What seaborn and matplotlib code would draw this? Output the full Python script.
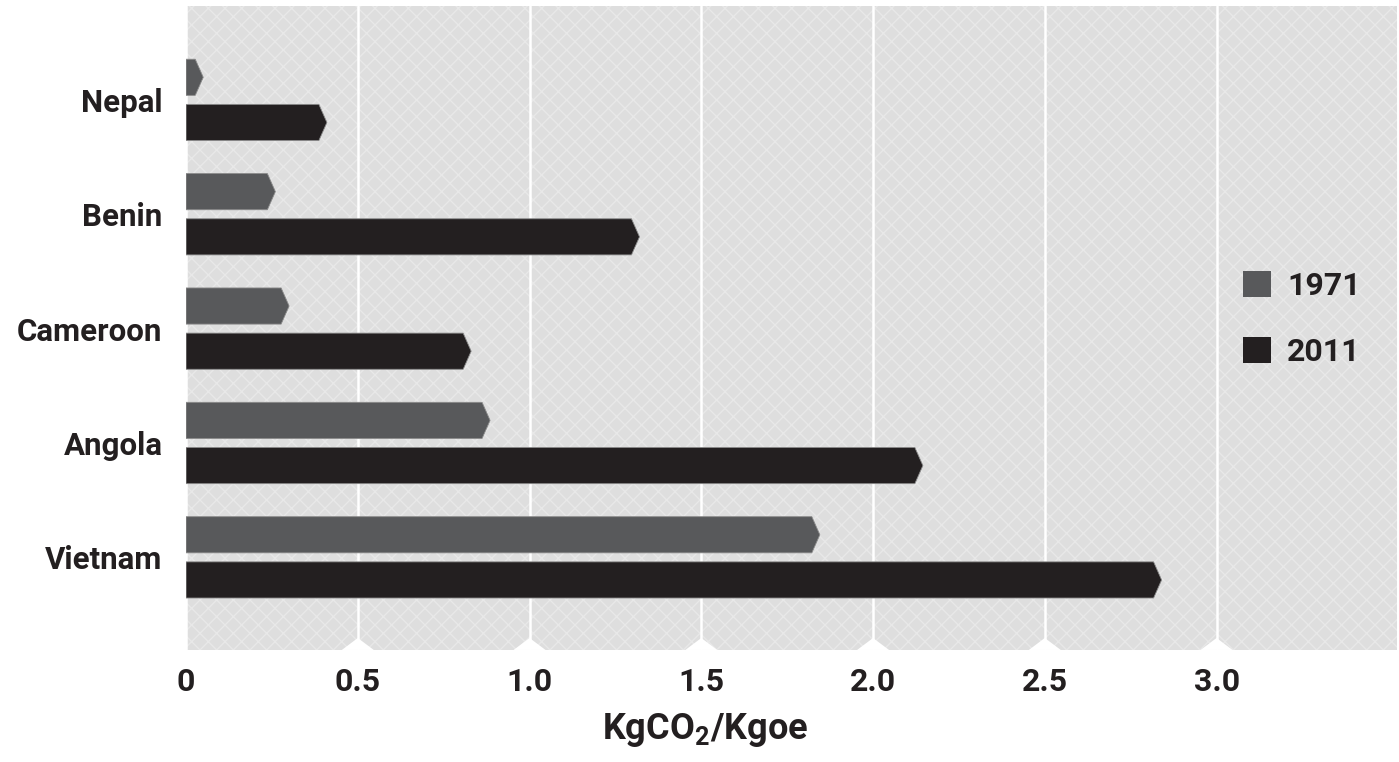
import numpy as np
import pandas as pd
import seaborn as sns
import matplotlib.pyplot as plt
from matplotlib.patches import Polygon, Rectangle
from matplotlib.transforms import blended_transform_factory

# ==========================================
# Datos (KgCO2 / Kgoe)
# ==========================================
paises = ["Nepal", "Benin", "Cameroon", "Angola", "Vietnam"]
anios = ["1971", "2011"]
valores_1971 = [0.05, 0.26, 0.30, 0.885, 1.845]
valores_2011 = [0.41, 1.32, 0.83, 2.145, 2.84]
ticks_x = [0, 0.5, 1.0, 1.5, 2.0, 2.5, 3.0]
etiquetas_x = ["0", "0.5", "1.0", "1.5", "2.0", "2.5", "3.0"]

colores = {"1971": "#58595b", "2011": "#231f20"}
TXT = "#231f20"

df = pd.DataFrame({
    "pais": paises * 2,
    "anio": [anios[0]] * len(paises) + [anios[1]] * len(paises),
    "valor": valores_1971 + valores_2011,
})

sns.set_theme(style="white")
plt.rcParams["font.family"] = ["Roboto", "DejaVu Sans"]
plt.rcParams["font.weight"] = "bold"
plt.rcParams["mathtext.fontset"] = "custom"
plt.rcParams["mathtext.rm"] = "Roboto:bold"
plt.rcParams["mathtext.default"] = "rm"
plt.rcParams["hatch.color"] = "#e8e8e8"
plt.rcParams["hatch.linewidth"] = 1.0

fig = plt.figure(figsize=(13.99, 7.62), dpi=100)
ax = fig.add_axes([0.133, 0.147, 0.8655, 0.845])

# fondo gris con trama cruzada
ax.set_facecolor("#dedede")
fondo = Rectangle((0, 0), 1, 1, transform=ax.transAxes, facecolor="#dedede",
                  edgecolor="#e8e8e8", hatch="xx", linewidth=0, zorder=0)
ax.add_patch(fondo)

sns.barplot(data=df, y="pais", x="valor", hue="anio", orient="h",
            palette=colores, width=0.79, gap=0.2, saturation=1,
            edgecolor="none", ax=ax, zorder=3)

ax.set_xlim(0, 3.525)
ax.set_ylim(4.81, -0.82)

# punta de flecha en cada barra
punta = 8 / 343.5
for cont in ax.containers:
    for rect in list(cont.patches):
        x0, y0 = rect.get_x(), rect.get_y()
        w, h = rect.get_width(), rect.get_height()
        x1 = x0 + w
        xs = max(x1 - punta, x0)
        pts = [(x0, y0), (xs, y0), (x1, y0 + h / 2), (xs, y0 + h), (x0, y0 + h)]
        poly = Polygon(pts, closed=True, facecolor=rect.get_facecolor(),
                       edgecolor="#8a8a8a", linewidth=0.6, zorder=3)
        ax.add_patch(poly)
        rect.set_visible(False)

# rejilla vertical blanca
ax.set_xticks(ticks_x)
ax.set_xticklabels(etiquetas_x)
ax.xaxis.grid(True, color="white", linewidth=1.8, zorder=1)
ax.yaxis.grid(False)
ax.set_axisbelow(True)

# muescas blancas en la base de cada marca
trans = blended_transform_factory(ax.transData, ax.transAxes)
mw, mh = 16 / 343.5, 12 / 644
for t in ticks_x[1:]:
    ax.fill([t - mw, t, t + mw], [0, mh, 0], color="white", transform=trans,
            zorder=2, linewidth=0)

for s in ax.spines.values():
    s.set_visible(False)

ax.tick_params(axis="x", length=0, pad=12, labelsize=23, labelcolor=TXT)
ax.tick_params(axis="y", length=0, pad=17, labelsize=22.5, labelcolor=TXT)
for lab in ax.get_xticklabels() + ax.get_yticklabels():
    lab.set_fontweight("bold")

ax.set_ylabel("")
ax.set_xlabel(r"KgCO$_2$/Kgoe", fontsize=26, fontweight="bold", color=TXT)
ax.xaxis.set_label_coords((705 - 186) / 1211, -0.095)

ley = ax.legend(loc="center left", bbox_to_anchor=(0.873, 0.514), frameon=False,
                fontsize=23, handlelength=0.88, handleheight=0.88,
                handletextpad=0.5, labelspacing=1.1, borderpad=0,
                borderaxespad=0)
for txt in ley.get_texts():
    txt.set_fontweight("bold")
    txt.set_color(TXT)

fig.savefig("out.png", dpi=100)
